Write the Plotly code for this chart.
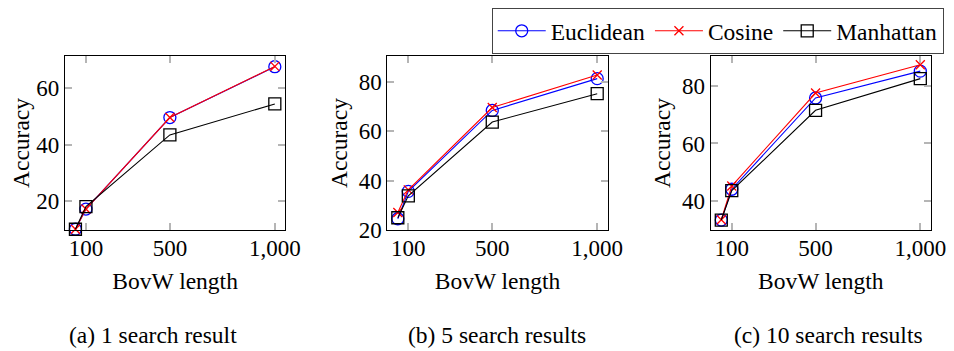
import plotly.graph_objects as go

x_vals = [50, 100, 500, 1000]
x_tickvals = [100, 500, 1000]
x_ticktext = ["100", "500", "1,000"]

# (a) 1 search result
a_euclidean = [10.2, 17.3, 49.5, 67.4]
a_cosine = [10.2, 17.3, 49.5, 67.5]
a_manhattan = [10.2, 18.2, 43.4, 54.3]
# (b) 5 search results
b_euclidean = [24.5, 35.6, 68.4, 81.3]
b_cosine = [27.0, 36.2, 69.6, 82.8]
b_manhattan = [24.9, 33.8, 63.7, 75.2]
# (c) 10 search results
c_euclidean = [33.4, 44.1, 75.8, 85.1]
c_cosine = [33.5, 45.2, 77.5, 87.3]
c_manhattan = [33.4, 43.6, 71.5, 82.5]

captions = ["(a) 1 search result", "(b) 5 search results", "(c) 10 search results"]
series_names = ["Euclidean", "Cosine", "Manhattan"]

# observed mapping from page css px to picture px
OFF = 8
SX, SY = 0.987, 0.965
W, H = 950, 352
FONT = "Liberation Serif, Times New Roman, Times, serif"
FS = 23.5
FS_TICK = 23

panels = [
    (a_euclidean, a_cosine, a_manhattan, [10, 71.1], [20, 40, 60]),
    (b_euclidean, b_cosine, b_manhattan, [20, 90.4], [20, 40, 60, 80]),
    (c_euclidean, c_cosine, c_manhattan, [30, 90.3], [40, 60, 80]),
]
# positions measured in picture pixels
xdom_px = [(65, 286), (388.3, 609.3), (712.7, 933.3)]
ytop_px, ybot_px = 56, 230
caption_x_px = [153, 498, 831]
caption_y_px = 335


def fx(px):
    return (px / SX - OFF) / W


def fy(px):
    return 1 - (px / SY - OFF) / H


styles = [
    dict(color="blue", symbol="circle-open", size=12, lw=1.3),
    dict(color="red", symbol="x-thin-open", size=9, lw=1.3),
    dict(color="black", symbol="square-open", size=12, lw=1.3),
]

fig = go.Figure()
for i, (e, c, m, yr, ytv) in enumerate(panels):
    xa = "x" if i == 0 else f"x{i+1}"
    ya = "y" if i == 0 else f"y{i+1}"
    for j, (vals, st) in enumerate(zip([e, c, m], styles)):
        fig.add_trace(go.Scatter(
            x=x_vals, y=vals, mode="lines+markers", name=series_names[j],
            showlegend=(i == 0), xaxis=xa, yaxis=ya, cliponaxis=False,
            line=dict(color=st["color"], width=1.1),
            marker=dict(symbol=st["symbol"], size=st["size"], color=st["color"],
                        line=dict(color=st["color"], width=st["lw"])),
        ))
    axis_common = dict(showline=True, linecolor="black", linewidth=1.2, mirror="ticks",
                       ticks="inside", ticklen=7, tickwidth=1.5, tickcolor="#b5b5b5",
                       showgrid=False, zeroline=False,
                       tickfont=dict(family=FONT, size=FS_TICK, color="black"))
    xkey = "xaxis" if i == 0 else f"xaxis{i+1}"
    ykey = "yaxis" if i == 0 else f"yaxis{i+1}"
    fig.layout[xkey] = dict(
        domain=[fx(xdom_px[i][0]), fx(xdom_px[i][1])], anchor=ya, range=[0, 1050],
        tickvals=x_tickvals, ticktext=x_ticktext, ticklabelstandoff=-3,
        title=dict(text="BovW length", font=dict(family=FONT, size=FS, color="black"), standoff=13),
        **axis_common)
    fig.layout[ykey] = dict(
        domain=[fy(ybot_px), fy(ytop_px)], anchor=xa, range=yr, tickvals=ytv,
        title=dict(text="Accuracy", font=dict(family=FONT, size=FS, color="black"), standoff=4),
        **axis_common)
    fig.add_annotation(text=captions[i], x=fx(caption_x_px[i]), y=fy(caption_y_px),
                       xref="paper", yref="paper", showarrow=False,
                       xanchor="center", yanchor="middle",
                       font=dict(family=FONT, size=FS, color="black"))

fig.update_layout(
    width=W, height=H, margin=dict(l=0, r=0, t=0, b=0),
    plot_bgcolor="white", paper_bgcolor="white",
    font=dict(family=FONT, size=FS, color="black"),
    legend=dict(orientation="h", x=fx(493), xanchor="left", y=1, yanchor="top",
                bordercolor="#444", borderwidth=1, bgcolor="white",
                font=dict(family=FONT, size=FS, color="black"),
                itemwidth=48, tracegroupgap=0),
)

fig.write_html("out.html", config={"displayModeBar": False})
